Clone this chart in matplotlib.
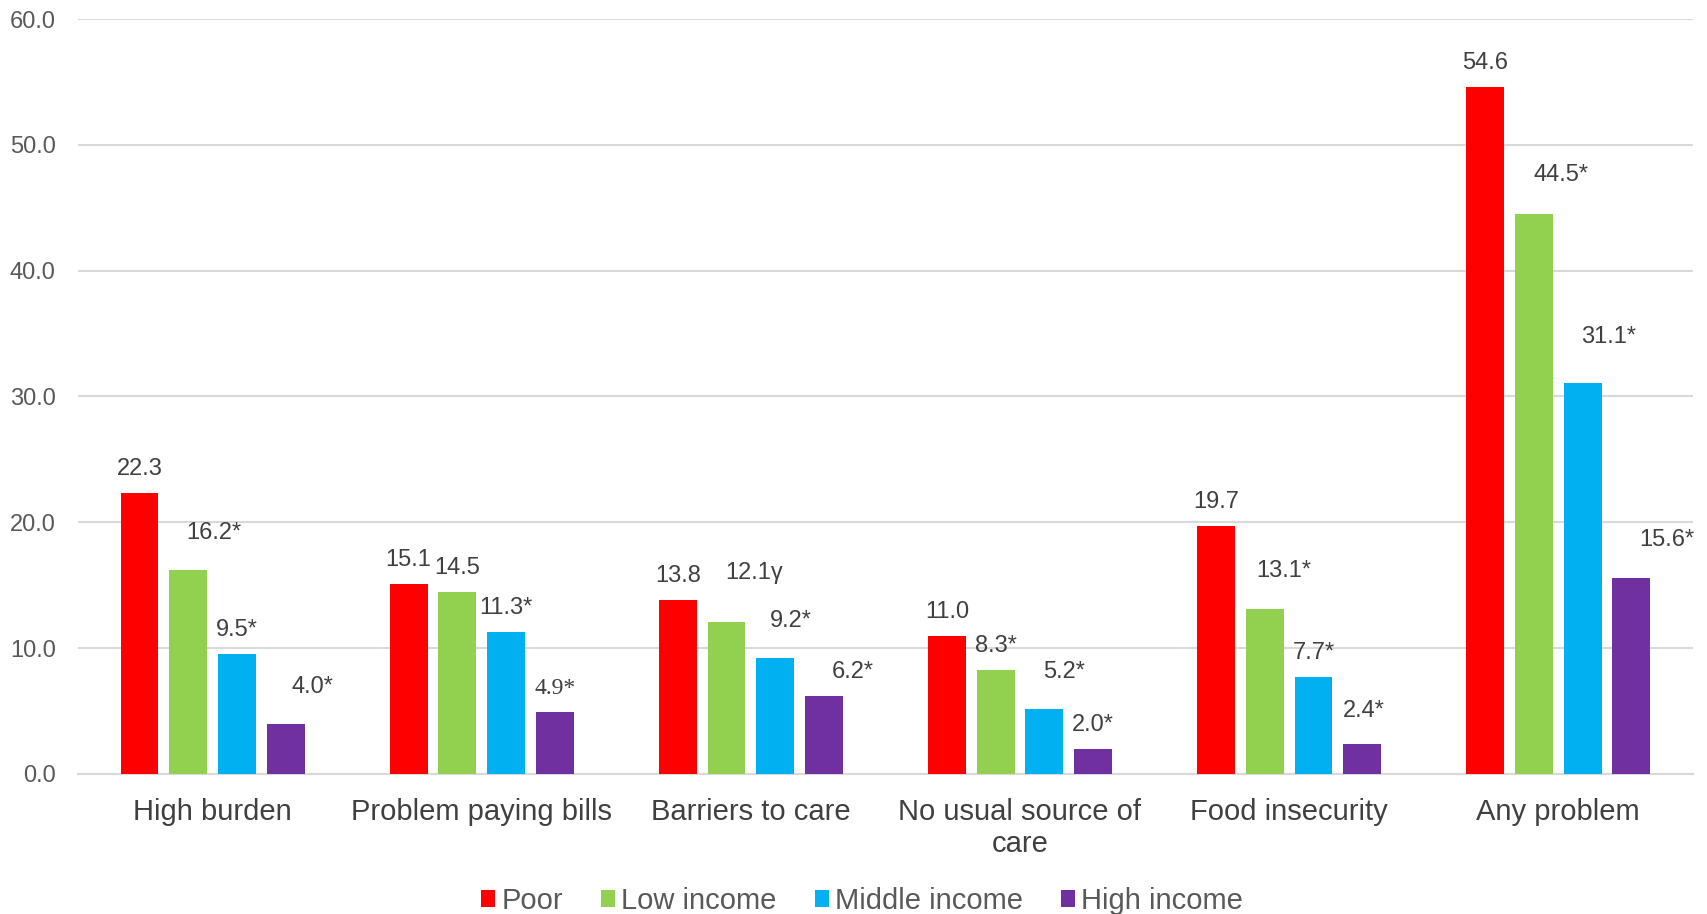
import matplotlib
matplotlib.use("Agg")
import matplotlib.pyplot as plt
import numpy as np

plt.rcParams['font.family'] = ['Liberation Sans', 'DejaVu Sans']

categories = ["High burden", "Problem paying bills", "Barriers to care",
              "No usual source of\ncare", "Food insecurity", "Any problem"]
groups = ["Poor", "Low income", "Middle income", "High income"]

poor = [22.3, 15.1, 13.8, 11.0, 19.7, 54.6]
low_income = [16.2, 14.5, 12.1, 8.3, 13.1, 44.5]
middle_income = [9.5, 11.3, 9.2, 5.2, 7.7, 31.1]
high_income = [4.0, 4.9, 6.2, 2.0, 2.4, 15.6]

# significance marks appended to each value label
poor_marks = ["", "", "", "", "", ""]
low_marks = ["*", "", "\u03b3", "*", "*", "*"]
middle_marks = ["*", "*", "*", "*", "*", "*"]
high_marks = ["*", "*", "*", "*", "*", "*"]

series = [poor, low_income, middle_income, high_income]
marks = [poor_marks, low_marks, middle_marks, high_marks]
colors = ["#FF0000", "#92D050", "#00B0F0", "#7030A0"]

# hand-placed label nudges (pixels: right, up) for crowded labels
nudge = {(1, 0): (26, 13), (3, 0): (27, 13), (1, 2): (28, 25), (2, 2): (16, 13),
         (3, 2): (29, 0), (2, 3): (20, 13), (1, 4): (19, 14), (3, 4): (2, 9),
         (1, 5): (27, 15), (2, 5): (26, 22), (3, 5): (35, 14)}

fig = plt.figure(figsize=(17.07, 9.14), dpi=100)
ax = fig.add_axes([0.0457, 0.1532, 0.946, 0.826])

x = np.arange(len(categories))
step = 0.181
width = 0.141
for i, (vals, col) in enumerate(zip(series, colors)):
    bars = ax.bar(x + (i - 1.5) * step, vals, width, color=col, label=groups[i], zorder=3)
    for j, b in enumerate(bars):
        dx, dy = nudge.get((i, j), (0, 0))
        txt = f"{vals[j]:.1f}{marks[i][j]}"
        fam = ['Liberation Serif'] if (i, j) == (3, 1) else ['Liberation Sans', 'DejaVu Sans']
        ax.annotate(txt, (b.get_x() + b.get_width() / 2, b.get_height()),
                    xytext=(dx, 24 + dy), textcoords="offset pixels",
                    ha="center", va="center", fontsize=17, color="#404040",
                    family=fam)

ax.set_xlim(-0.5, len(categories) - 0.5)
ax.set_ylim(0, 60)
ax.set_yticks(np.arange(0, 61, 10))
ax.set_yticklabels([f"{v:.1f}" for v in np.arange(0, 61, 10)])
ax.set_xticks(x)
ax.set_xticklabels(categories, fontsize=21, color="#404040", linespacing=1.2)
ax.tick_params(axis="y", labelsize=17, labelcolor="#595959", length=0, pad=16)
ax.tick_params(axis="x", length=0, pad=17)
ax.grid(axis="y", color="#D9D9D9", linewidth=1.5, zorder=0)
for s in ["top", "right", "left"]:
    ax.spines[s].set_visible(False)
ax.spines["bottom"].set_color("#D9D9D9")
ax.spines["bottom"].set_linewidth(1.5)

fig.legend(loc="center", bbox_to_anchor=(862 / 1707, 1 - 901 / 914), ncol=4,
           frameon=False, fontsize=21, handlelength=0.5, handleheight=0.5,
           handletextpad=0.2, columnspacing=1.3, labelcolor="#595959",
           borderaxespad=0, borderpad=0)

fig.savefig("out.png", dpi=100)
plt.close(fig)
